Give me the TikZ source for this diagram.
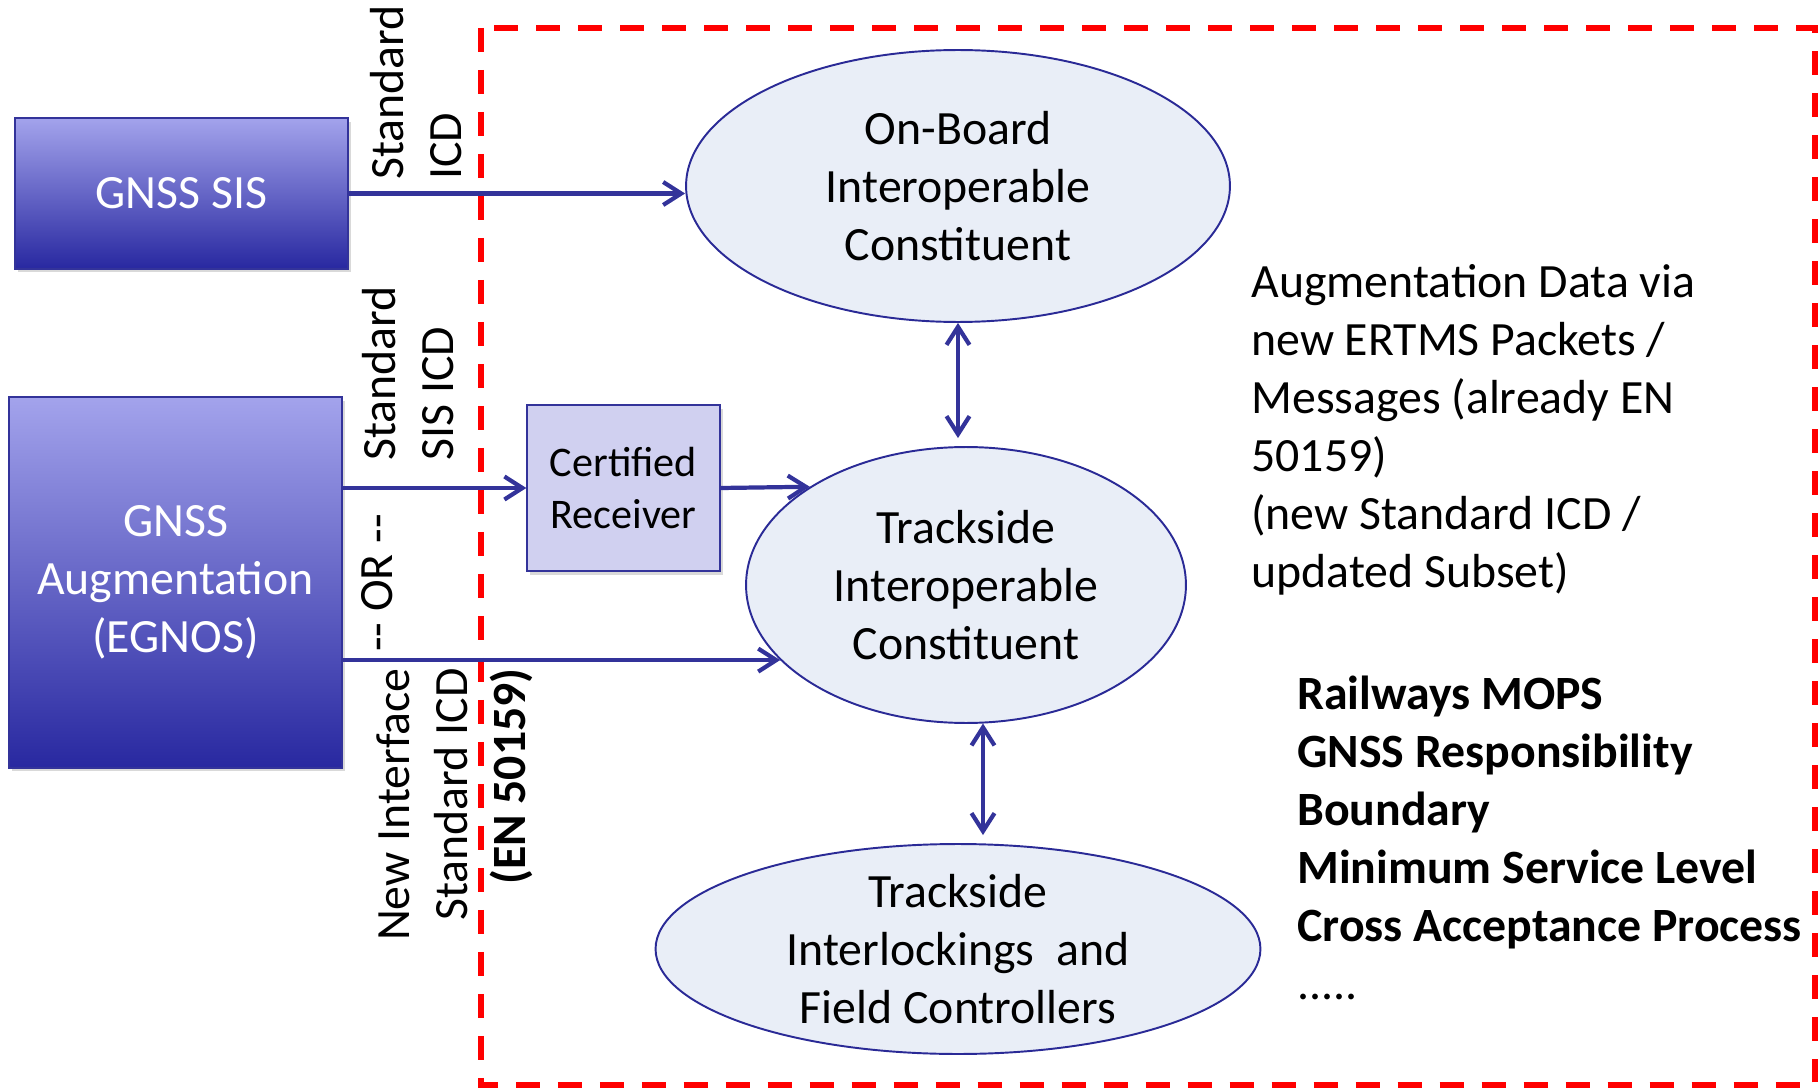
\documentclass[tikz,border=0pt]{standalone}
\usepackage{fontspec}
\setmainfont{Carlito}
\usetikzlibrary{arrows.meta,shapes.geometric,shadows}
\definecolor{boxtop}{RGB}{163,163,236}
\definecolor{boxbot}{RGB}{40,40,160}
\definecolor{navy}{RGB}{51,51,154}
\definecolor{ellline}{RGB}{42,42,150}
\definecolor{ellfill}{RGB}{233,238,247}
\definecolor{rcvfill}{RGB}{208,208,240}
\begin{document}
\begin{tikzpicture}[x=0.02cm,y=-0.02cm,
                    every node/.style={font=\fontsize{27.2}{33}\selectfont},
                    gbox/.style={draw=navy,line width=.8pt,top color=boxtop,bottom color=boxbot,text=white,align=center,drop shadow={shadow xshift=1.5pt,shadow yshift=-2pt,opacity=.3}},
                    rbox/.style={draw=navy,line width=.8pt,fill=rcvfill,align=center,font=\fontsize{24}{29.5}\selectfont,drop shadow={shadow xshift=1.5pt,shadow yshift=-2pt,opacity=.3}},
                    ell/.style={ellipse,draw=ellline,line width=1.1pt,fill=ellfill,inner sep=0pt},
                    lbl/.style={align=center,inner sep=0pt},
                    rot/.style={rotate=90,inner sep=0pt},
                    arr/.style={navy,line width=2.4pt,-{Straight Barb[length=0.36cm,width=0.46cm]}},
                    darr/.style={navy,line width=2.4pt,{Straight Barb[length=0.36cm,width=0.46cm]}-{Straight Barb[length=0.36cm,width=0.46cm]}}]
  \useasboundingbox (0,0) rectangle (1820,1088);
  \draw[red,line width=0.13cm,dash pattern=on 0.48cm off 0.36cm] (481,28) rectangle (1815,1085);
  \node[gbox,minimum width=6.66cm,minimum height=3.02cm] (sis) at (181.5,193.5) {GNSS SIS};
  \node[gbox,minimum width=6.66cm,minimum height=7.42cm] (aug) at (175.5,582.5) {GNSS\\Augmentation\\(EGNOS)};
  \node[rbox,minimum width=3.86cm,minimum height=3.32cm] (rcv) at (623.5,488) {Certified\\Receiver};
  \node[ell,minimum width=10.88cm,minimum height=5.44cm,label={[lbl]center:On-Board\\Interoperable\\Constituent}] (obic) at (958,186) {};
  \node[ell,minimum width=8.8cm,minimum height=5.52cm,label={[lbl]center:Trackside\\Interoperable\\Constituent}] (tsic) at (966,585) {};
  \node[ell,minimum width=12.1cm,minimum height=4.2cm,label={[lbl]center:Trackside\\Interlockings\ \ and\\Field Controllers}] (tsil) at (958,949) {};
  \node[rot,anchor=south west,align=left] (icd) at (462,180) {Standard\\ICD};
  \node[rot,anchor=south west,align=left] (sisicd) at (454,461) {Standard\\SIS ICD};
  \node[rot] (or) at (377,583) {-{}- OR -{}-};
  \node[rot,anchor=south east,align=right] (newif) at (533,668) {New Interface\\Standard ICD\\\textbf{(EN 50159)}};
  \node[anchor=north west,align=left,inner sep=0pt] (augdata) at (1251,264) {Augmentation Data via\\new ERTMS Packets /\\Messages (already EN\\50159)\\(new Standard ICD /\\updated Subset)};
  \node[anchor=north west,align=left,inner sep=0pt,font=\fontsize{27.2}{33}\selectfont\bfseries] (issues) at (1297,676) {Railways MOPS\\GNSS Responsibility\\Boundary\\Minimum Service Level\\Cross Acceptance Process\\\mdseries .....};
  \draw[arr] (sis.east) -- (sis.east -| obic.west);
  \draw[arr] (aug.east |- rcv.west) -- (rcv.west);
  \draw[arr] (rcv.east) -- (tsic.north west);
  \draw[arr] (aug.east |- tsic.202) -- (tsic.202);
  \draw[darr,shorten >=0.16cm] (obic.south) -- (obic.south |- tsic.north);
  \draw[darr,shorten >=0.16cm] (tsic.277) -- (tsic.277 |- tsil.north);
\end{tikzpicture}
\end{document}
